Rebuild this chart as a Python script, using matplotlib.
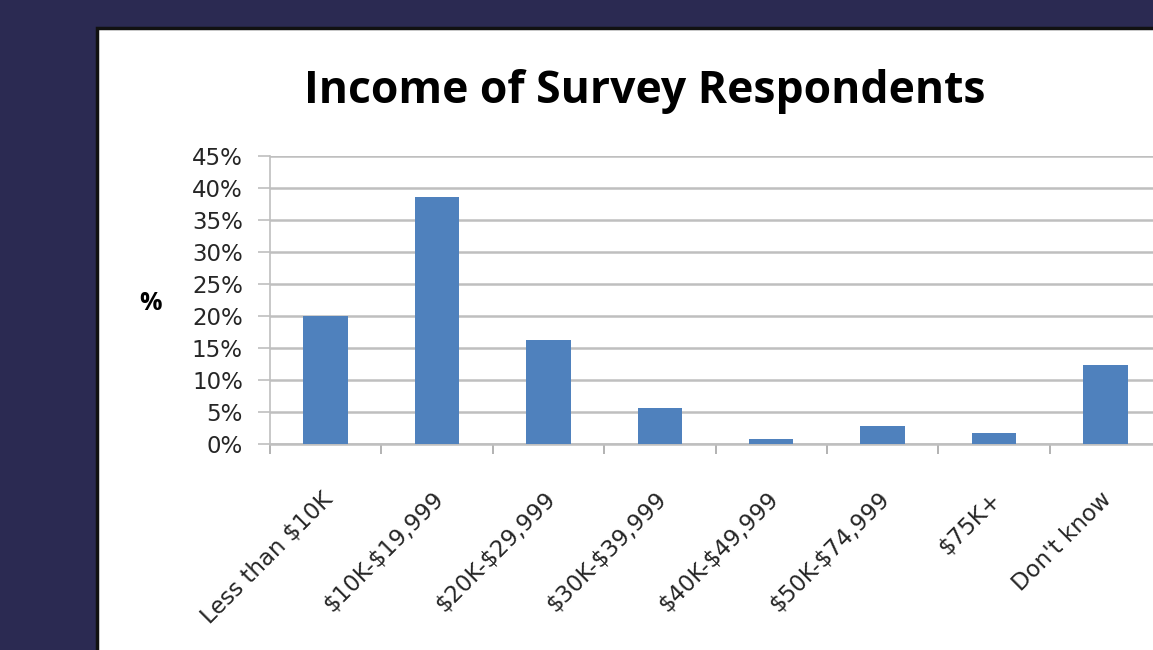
import matplotlib.pyplot as plt
from matplotlib.patches import Rectangle
from matplotlib.transforms import ScaledTranslation

categories = ['Less than $10K', '$10K-$19,999', '$20K-$29,999', '$30K-$39,999',
              '$40K-$49,999', '$50K-$74,999', '$75K+', "Don't know"]
values = [20.0, 38.6, 16.2, 5.6, 0.8, 2.8, 1.7, 12.3]
yticks = [0, 5, 10, 15, 20, 25, 30, 35, 40, 45]

W, H = 1153, 650
plt.rcParams['font.family'] = ['DejaVu Sans']
plt.rcParams['text.parse_math'] = False

fig = plt.figure(figsize=(W / 100, H / 100), dpi=100)
fig.patch.set_facecolor('#2b2a52')

# white slide panel with a dark edge
panel = Rectangle((97 / W, -0.1), 1.0, 1.1 - 28 / H, transform=fig.transFigure,
                  facecolor='white', edgecolor='#111111', linewidth=2.5, zorder=-5)
fig.patches.append(panel)

ax = fig.add_axes([270 / W, 1 - 444 / H, (1161 - 270) / W, (444 - 156) / H])
ax.set_facecolor('white')

x = range(len(categories))
ax.bar(x, values, width=0.4, color='#4f81bd', zorder=3)

ax.set_xlim(-0.5, len(categories) - 0.5)
ax.set_ylim(0, 45)
ax.set_yticks(yticks)
ax.set_yticklabels([f'{v}%' for v in yticks], fontsize=16.5, color='#262626')
ax.yaxis.grid(True, color='#bfbfbf', linewidth=1.8, zorder=0)
ax.tick_params(axis='y', length=8.5, color='#bfbfbf', width=1.2, pad=11)

ax.set_xticks(list(x))
ax.set_xticklabels(categories, rotation=45, ha='right', va='center',
                   rotation_mode='anchor', fontsize=16.5, color='#262626')
ax.tick_params(axis='x', which='major', length=0, pad=37)
shift = ScaledTranslation(0.03, 0, fig.dpi_scale_trans)
for lbl in ax.get_xticklabels():
    lbl.set_transform(lbl.get_transform() + shift)
ax.set_xticks([i + 0.5 for i in range(-1, len(categories))], minor=True)
ax.tick_params(axis='x', which='minor', length=7.5, color='#a6a6a6', width=1.2)

for side in ['top', 'right']:
    ax.spines[side].set_visible(False)
ax.spines['left'].set_color('#bfbfbf')
ax.spines['bottom'].set_color('#bfbfbf')
ax.spines['left'].set_linewidth(1.2)
ax.spines['bottom'].set_linewidth(1.8)

fig.text(645 / W, 1 - 91 / H, 'Income of Survey Respondents', ha='center', va='center',
         fontsize=32, fontweight='bold', color='black', family='Open Sans')
fig.text(150 / W, 1 - 303 / H, '%', ha='center', va='center',
         fontsize=18, fontweight='bold', color='black', family='Open Sans')

fig.savefig('out.png', dpi=100, facecolor=fig.get_facecolor())
